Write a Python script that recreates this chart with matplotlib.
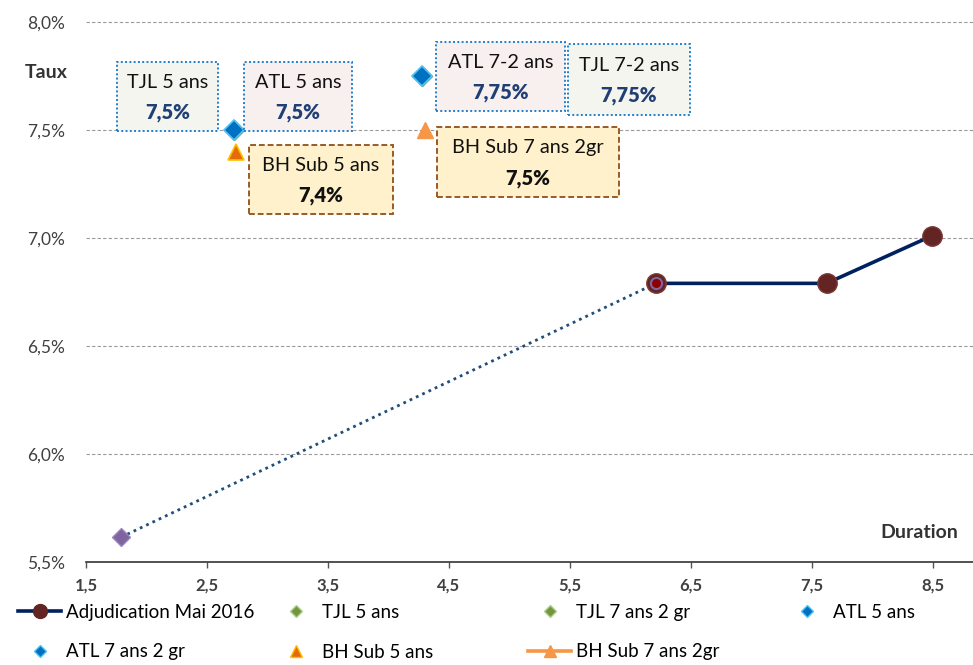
import matplotlib
matplotlib.use("Agg")
import matplotlib.pyplot as plt
import matplotlib.ticker as mticker
from matplotlib.patches import Rectangle
from matplotlib.lines import Line2D

plt.rcParams["font.family"] = ["Lato", "DejaVu Sans"]

# data
adj_duration = [6.21, 7.62, 8.49]
adj_taux = [6.79, 6.79, 7.01]
proj_duration = [1.79, 6.21]
proj_taux = [5.615, 6.79]

atl_duration = [2.72, 4.28]
atl_taux = [7.5, 7.75]
tjl_duration = [2.72, 4.28]
tjl_taux = [7.5, 7.75]
bh5_duration = [2.74]
bh5_taux = [7.4]
bh7_duration = [4.30]
bh7_taux = [7.5]

# label boxes: (title, value, x0, x1, y0, y1, kind)
boxes = [
    ("TJL 5 ans", "7,5%", 1.756, 2.591, 7.495, 7.815, "tjl"),
    ("ATL 5 ans", "7,5%", 2.806, 3.698, 7.495, 7.815, "atl"),
    ("BH Sub 5 ans", "7,4%", 2.847, 4.037, 7.111, 7.431, "bh"),
    ("ATL 7-2 ans", "7,75%", 4.393, 5.459, 7.588, 7.907, "atl"),
    ("TJL 7-2 ans", "7,75%", 5.483, 6.492, 7.569, 7.898, "tjl"),
    ("BH Sub 7 ans 2gr", "7,5%", 4.401, 5.905, 7.190, 7.514, "bh"),
]
BOX_STYLE = {
    "tjl": dict(fc="#F4F5EE", ec="#1F7FCF", ls=(0, (1, 1.2)), vc="#1F3F75"),
    "atl": dict(fc="#F8EFEF", ec="#1F7FCF", ls=(0, (1, 1.2)), vc="#1F3F75"),
    "bh": dict(fc="#FFF1CB", ec="#9A5A25", ls=(0, (3, 1.5)), vc="#111111"),
}

fig = plt.figure(figsize=(9.73, 6.65), dpi=100)
ax = fig.add_axes([86 / 973, 103 / 665, 887 / 973, 540 / 665])
ax.set_xlim(1.5, 1.5 + 887 / 121)
ax.set_ylim(5.5, 8.0)

ax.set_xticks([1.5, 2.5, 3.5, 4.5, 5.5, 6.5, 7.5, 8.5])
ax.set_yticks([5.5, 6.0, 6.5, 7.0, 7.5, 8.0])
ax.xaxis.set_major_formatter(mticker.FuncFormatter(lambda v, p: f"{v:.1f}".replace(".", ",")))
ax.yaxis.set_major_formatter(mticker.FuncFormatter(lambda v, p: f"{v:.1f}%".replace(".", ",")))
ax.tick_params(axis="x", length=4, width=1, color="#555555", pad=7,
               labelsize=12, labelcolor="#404040")
ax.tick_params(axis="y", length=0, pad=15, labelsize=12.5, labelcolor="#404040")
for lbl in ax.get_xticklabels():
    lbl.set_fontweight("bold")
for s in ["left", "right", "top"]:
    ax.spines[s].set_visible(False)
ax.spines["bottom"].set_color("#333333")
ax.spines["bottom"].set_linewidth(1.2)
for yv in [6.0, 6.5, 7.0, 7.5, 8.0]:
    ax.axhline(yv, color="#9A9A9A", lw=0.8, ls=(0, (3, 2)), zorder=0, clip_on=False)

# projection dotted line and series
ax.plot(proj_duration, proj_taux, color="#1F4E79", lw=2, ls=(0, (1, 1.5)), zorder=2)
ax.plot(proj_duration[:1], proj_taux[:1], marker="D", ms=9, color="#8064A2",
        mec="#9B87BA", ls="none", zorder=3)
ax.plot(adj_duration, adj_taux, color="#002060", lw=2.6, marker="o", ms=14,
        mfc="#632523", mec="#7A3A38", zorder=4)
ax.plot(adj_duration[:1], adj_taux[:1], marker="o", ms=8, mfc="#8B0000",
        mec="#8064A2", mew=1.5, ls="none", zorder=5)
ax.plot(tjl_duration, tjl_taux, marker="D", ms=10, color="#77933C", ls="none", zorder=3)
ax.plot(atl_duration, atl_taux, marker="D", ms=10, mfc="#0070C0", mec="#4FC3F7",
        mew=1.2, ls="none", zorder=4)
ax.plot(bh5_duration, bh5_taux, marker="^", ms=11, mfc="#E36C09", mec="#FFC000",
        mew=1.2, ls="none", zorder=4)
ax.plot(bh7_duration, bh7_taux, marker="^", ms=11, color="#F79646", ls="none", zorder=4)

for title, val, x0, x1, y0, y1, kind in boxes:
    st = BOX_STYLE[kind]
    ax.add_patch(Rectangle((x0, y0), x1 - x0, y1 - y0, fc=st["fc"], ec=st["ec"],
                           ls=st["ls"], lw=1.4, zorder=6))
    xc = (x0 + x1) / 2
    h = y1 - y0
    ax.text(xc, y1 - 0.30 * h, title, ha="center", va="center", fontsize=14.3,
            color="#111111", zorder=7)
    ax.text(xc, y0 + 0.27 * h, val, ha="center", va="center", fontsize=14.5,
            fontweight="heavy", color=st["vc"], zorder=7)

fig.text(68 / 973, 1 - 73 / 665, "Taux", ha="right", va="center", fontsize=14,
         fontweight="bold", color="#333333")
fig.text(958 / 973, 1 - 533 / 665, "Duration", ha="right", va="center", fontsize=14,
         fontweight="bold", color="#333333")

# legend, 4 columns laid out row by row
h_adj = Line2D([], [], color="#002060", lw=2.6, marker="o", ms=10, mfc="#632523", mec="#632523")
h_tjl = Line2D([], [], ls="none", marker="D", ms=6, mfc="#77933C", mec="#A9D18E")
h_atl = Line2D([], [], ls="none", marker="D", ms=6, mfc="#0070C0", mec="#4FC3F7")
h_bh5 = Line2D([], [], ls="none", marker="^", ms=8, mfc="#E36C09", mec="#FFC000")
h_bh7 = Line2D([], [], color="#F79646", lw=2.6, marker="^", ms=8)
columns = [
    ([h_adj, h_atl], ["Adjudication Mai 2016", "ATL 7 ans 2 gr"], 18),
    ([h_tjl, h_bh5], ["TJL 5 ans", "BH Sub 5 ans"], 274),
    ([h_tjl, h_bh7], ["TJL 7 ans 2 gr", "BH Sub 7 ans 2gr"], 528),
    ([h_atl], ["ATL 5 ans"], 785),
]
for handles, labels, xpx in columns:
    fig.legend(handles, labels, loc="upper left", bbox_to_anchor=(xpx / 973, 1 - 604 / 665),
               frameon=False, fontsize=13.5, handlelength=2.3, handletextpad=0.25,
               labelspacing=1.2, borderpad=0, borderaxespad=0)

fig.savefig("out.png", dpi=100)
